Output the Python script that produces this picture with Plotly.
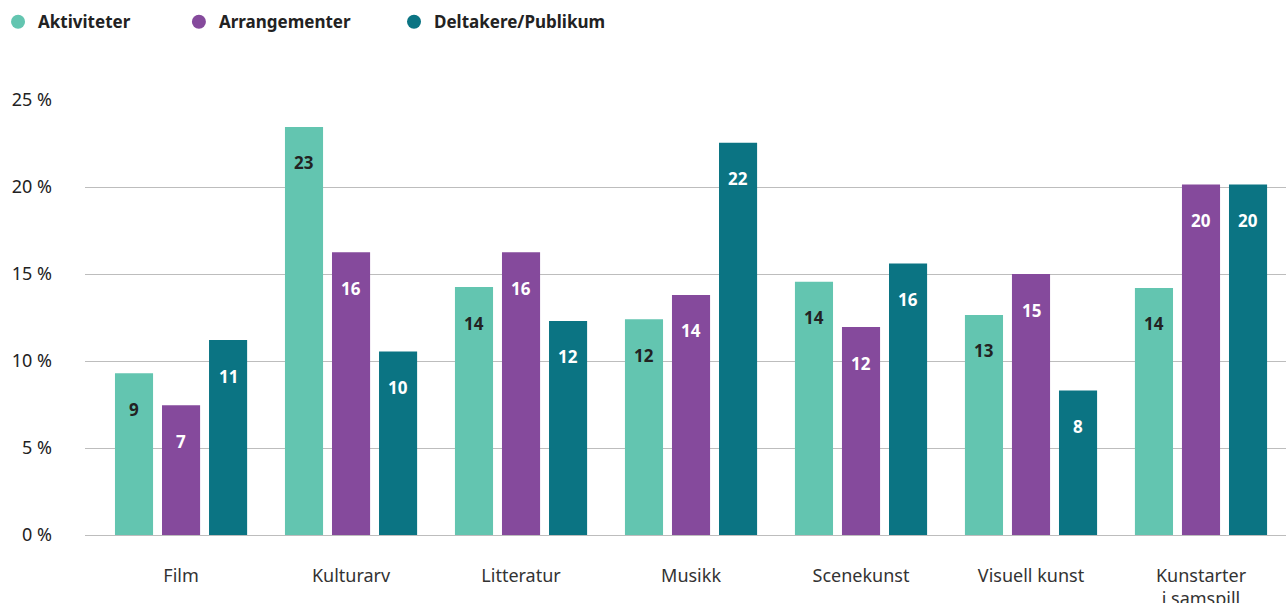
import plotly.graph_objects as go

categories = ["Film", "Kulturarv", "Litteratur", "Musikk", "Scenekunst", "Visuell kunst", "Kunstarter<br>i samspill"]
series_names = ["Aktiviteter", "Arrangementer", "Deltakere/Publikum"]
aktiviteter = [9.3, 23.45, 14.25, 12.4, 14.55, 12.65, 14.2]
arrangementer = [7.45, 16.25, 16.25, 13.8, 11.95, 15.0, 20.15]
deltakere = [11.2, 10.55, 12.3, 22.55, 15.6, 8.3, 20.15]
lab_akt = ["9", "23", "14", "12", "14", "13", "14"]
lab_arr = ["7", "16", "16", "14", "12", "15", "20"]
lab_del = ["11", "10", "12", "22", "16", "8", "20"]
y_ticks = [0, 5, 10, 15, 20, 25]

colors = ["#63c5b0", "#854a9c", "#0b7483"]
text_colors = ["#222222", "#ffffff", "#ffffff"]
values = [aktiviteter, arrangementer, deltakere]
labels = [lab_akt, lab_arr, lab_del]
legend_ids = ["legend", "legend2", "legend3"]
legend_x = [-0.0724, 0.0782, 0.2573]

FONT = "Noto Sans"
fig = go.Figure()
for name, vals, col in zip(series_names, values, colors):
    fig.add_trace(go.Bar(x=categories, y=vals, name=name, marker=dict(color=col, line=dict(width=0)),
                         showlegend=False, hoverinfo="skip"))
for name, col, lid in zip(series_names, colors, legend_ids):
    fig.add_trace(go.Scatter(x=[None], y=[None], mode="markers", name=name, legend=lid,
                             marker=dict(color=col, size=14, symbol="circle")))

slot_px = 47
for i, (vals, labs, tc) in enumerate(zip(values, labels, text_colors)):
    for c, v, t in zip(categories, vals, labs):
        fig.add_annotation(x=c, y=v, xref="x", yref="y", text=t, showarrow=False,
                           xshift=(i - 1) * slot_px, yshift=-36,
                           font=dict(family=FONT, size=17, color=tc, weight="bold"))

leg_common = dict(orientation="h", xanchor="left", y=0.993, yref="container", yanchor="top",
                  font=dict(family=FONT, size=17, color="#222222", weight="bold"),
                  itemclick=False, itemdoubleclick=False, bgcolor="rgba(0,0,0,0)")

fig.update_layout(
    width=1287, height=603,
    margin=dict(l=85, r=1, t=100, b=68, autoexpand=False),
    paper_bgcolor="white", plot_bgcolor="white",
    barmode="group", bargap=0.17, bargroupgap=0.19,
    font=dict(family=FONT, color="#222222"),
    legend=dict(x=legend_x[0], **leg_common),
    legend2=dict(x=legend_x[1], **leg_common),
    legend3=dict(x=legend_x[2], **leg_common),
    xaxis=dict(type="category", range=[-0.565, 6.5], showgrid=False, showline=False, ticks="",
               automargin=False,
               tickfont=dict(family=FONT, size=18, color="#333333"), ticklabelstandoff=28),
    yaxis=dict(range=[0, 25], tickvals=y_ticks, ticktext=[f"{v} %" for v in y_ticks],
               automargin=False,
               showgrid=True, gridcolor="#bdbdbd", gridwidth=1.3, zeroline=True, zerolinecolor="#bdbdbd",
               zerolinewidth=1.3, ticks="", showline=False,
               tickfont=dict(family=FONT, size=18, color="#222222"), ticklabelstandoff=32),
)
fig.write_html("out.html", config={"displayModeBar": False},
               post_script="document.body.style.margin='0';document.body.style.overflow='hidden';")
